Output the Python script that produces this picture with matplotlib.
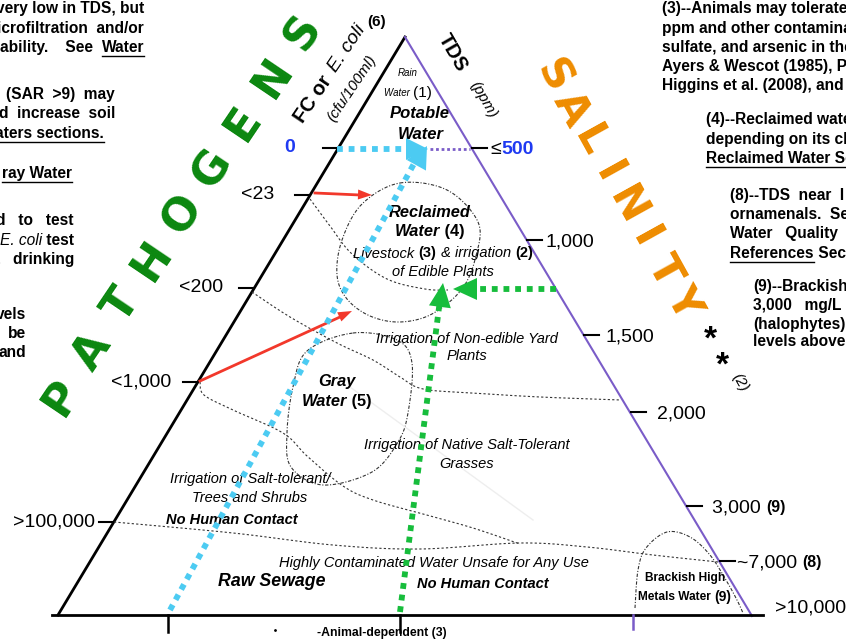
import numpy as np
import matplotlib.pyplot as plt

# --- geometry of the diagram (pixel space, y down) ---
W, H = 846, 640
apex = np.array([405.0, 37.0])
left_base = np.array([58.0, 615.0])
right_base = np.array([752.0, 616.0])

# pathogen axis (left side): labels and fraction along side from apex
pathogen_labels = ['0', '<23', '<200', '<1,000', '>100,000']
pathogen_pos = [0.192, 0.273, 0.434, 0.597, 0.839]
pathogen_gap = [28, 21, 16, 12, 4]

# TDS axis (right side)
tds_labels = ['500', '1,000', '1,500', '2,000', '3,000', '~7,000']
tds_notes = ['', '', '', '', '(9)', '(8)']
tds_pos = [0.191, 0.350, 0.514, 0.648, 0.810, 0.905]
tds_gap = [19, 19, 22, 27, 26, 18]

# bottom ticks (fraction along the base)
base_ticks = [0.1585, 0.493, 0.8285]
base_tick_colors = ['black', 'black', '#7a5cc8']

# region boundaries (key points of the dashed curves)
curve_23 = [(310, 199), (330, 226), (352, 254), (387, 279), (425, 289), (448, 290)]
curve_200 = [(252, 292), (290, 317), (337, 343), (373, 360), (400, 377), (423, 389),
             (473, 393), (540, 397), (621, 400)]
curve_1000 = [(200, 382), (204, 395), (233, 410), (283, 433), (307, 456), (343, 486),
              (373, 500), (423, 514), (473, 528), (520, 544)]
curve_100k = [(114, 522), (233, 533), (333, 545), (420, 549), (520, 543), (587, 547),
              (653, 555), (718, 562)]
loop_reclaimed = [(400, 183), (447, 190), (478, 222), (476, 256), (462, 289), (432, 314),
                  (400, 322), (370, 316), (347, 299), (337, 275), (342, 240), (362, 204)]
loop_gray = [(353, 333), (397, 340), (412, 363), (408, 413), (398, 442), (372, 472),
             (323, 485), (291, 467), (287, 433), (293, 387), (307, 351)]
loop_brackish = [(635, 608), (638, 570), (646, 548), (667, 532), (690, 537), (710, 555),
                 (726, 580), (737, 600), (743, 613)]

CYAN = '#4ccbf2'
GREEN = '#17bd3c'
RED = '#f2382b'
PURPLE = '#7a5cc8'
BLUE = '#1f3af2'
PGREEN = '#0b870f'
ORANGE = '#ee8c00'

plt.rcParams['font.family'] = ['Liberation Sans', 'DejaVu Sans']

fig = plt.figure(figsize=(8.46, 6.4), dpi=100)
ax = fig.add_axes([0, 0, 1, 1])
ax.set_xlim(0, W)
ax.set_ylim(H, 0)
ax.axis('off')
renderer = fig.canvas.get_renderer()


def along(p, q, t):
    return p + t * (q - p)


def catmull(pts, closed=False, n=16):
    P = np.asarray(pts, float)
    if closed:
        P = np.vstack([P[-1], P, P[0], P[1]])
    else:
        P = np.vstack([P[0], P, P[-1]])
    t = np.linspace(0, 1, n, endpoint=False)[:, None]
    out = []
    for i in range(1, len(P) - 2):
        p0, p1, p2, p3 = P[i - 1], P[i], P[i + 1], P[i + 2]
        out.append(0.5 * (2 * p1 + (-p0 + p2) * t + (2 * p0 - 5 * p1 + 4 * p2 - p3) * t ** 2
                          + (-p0 + 3 * p1 - 3 * p2 + p3) * t ** 3))
    out.append(P[-2][None])
    return np.vstack(out)


def width_of(s, **kw):
    a = ax.text(0, 0, '|' + s + '|', **kw)
    b = ax.text(0, 0, '||', **kw)
    w = a.get_window_extent(renderer).width - b.get_window_extent(renderer).width
    a.remove()
    b.remove()
    return w


def rich(x, y, parts, ha='center', size=10, va='center_baseline'):
    items = []
    for p in parts:
        s, kw = p[0], dict(p[1])
        ul = kw.pop('ul', False)
        kw.setdefault('fontsize', size)
        items.append((s, kw, ul, width_of(s, **kw)))
    total = sum(i[3] for i in items)
    x0 = {'center': x - total / 2, 'right': x - total, 'left': x}[ha]
    for s, kw, ul, w in items:
        t = ax.text(x0, y, s, ha='left', va=va, **kw)
        if ul:
            bb = t.get_window_extent(renderer)
            yb = H - bb.y0 + 1
            ax.plot([x0, x0 + w], [yb, yb], color=kw.get('color', 'black'), lw=1)
        x0 += w


def head(tip, frm, length, width, color):
    tip = np.asarray(tip, float)
    d = tip - np.asarray(frm, float)
    d /= np.hypot(*d)
    n = np.array([-d[1], d[0]])
    base = tip - d * length
    ax.fill(*np.array([tip, base + n * width / 2, base - n * width / 2]).T, color=color, lw=0, zorder=5)


# --- triangle sides ---
ax.plot(*np.array([apex, left_base]).T, color='black', lw=2)
ax.plot(*np.array([apex, right_base]).T, color=PURPLE, lw=1.5)
ax.plot([52, 763], [615, 615], color='black', lw=2)

# pathogen ticks
for lab, t, g in zip(pathogen_labels, pathogen_pos, pathogen_gap):
    p = along(apex, left_base, t)
    ax.plot([p[0] - 15, p[0]], [p[1], p[1]], color='black', lw=1.5)
    if lab == '0':
        ax.text(p[0] - 15 - g, p[1], lab, ha='right', va='center', fontsize=14,
                fontweight='bold', color=BLUE)
    else:
        ax.text(p[0] - 15 - g, p[1], lab, ha='right', va='center', fontsize=14)

# TDS ticks
for lab, note, t, g in zip(tds_labels, tds_notes, tds_pos, tds_gap):
    p = along(apex, right_base, t)
    ax.plot([p[0] + 1, p[0] + 16], [p[1], p[1]], color='black', lw=1.5)
    if lab == '500':
        rich(p[0] + g, p[1], [('≤', {}), ('500', {'fontweight': 'bold', 'color': BLUE})],
             ha='left', size=14)
    elif note:
        rich(p[0] + g, p[1], [(lab + ' ', {}), (note, {'fontweight': 'bold', 'fontsize': 11.5})],
             ha='left', size=14)
    else:
        rich(p[0] + g, p[1], [(lab, {})], ha='left', size=14)
ax.text(775, 608, '>10,000', ha='left', va='center', fontsize=14)

for t, c in zip(base_ticks, base_tick_colors):
    p = along(left_base, right_base, t)
    ax.plot([p[0], p[0]], [615, 615 + (14 if c != 'black' else 17)], color=c, lw=1.8)
ax.plot([275], [630], marker='.', color='black', ms=2)
ax.text(382, 633, '-Animal-dependent (3)', ha='center', va='center', fontsize=8.8, fontweight='bold')

# --- dashed region boundaries ---
for c in [curve_23, curve_200, curve_1000, curve_100k]:
    xy = catmull(c)
    ax.plot(xy[:, 0], xy[:, 1], color='#333333', lw=0.8, ls=(0, (2, 2)))
for c, closed in [(loop_reclaimed, True), (loop_gray, True), (loop_brackish, False)]:
    xy = catmull(c, closed=closed)
    ax.plot(xy[:, 0], xy[:, 1], color='#333333', lw=0.8, ls=(0, (3, 1.5, 1, 1.5)))
ax.plot([350, 533], [387, 520], color='#eeeeee', lw=1)

# --- arrows ---
dot = dict(lw=4.2, ls=(0, (1, 1)), dash_capstyle='butt', zorder=4)
ax.plot([170, 416], [610, 160], color=CYAN, **dot)
head((427, 146), (170, 610), 22, 22, CYAN)
ax.plot([337, 405], [149, 149], color=CYAN, **dot)
head((428, 149), (337, 149), 22, 22, CYAN)
ax.plot([430, 470], [149, 149], color=PURPLE, lw=2, ls=(0, (1, 1)))
ax.plot([400, 440], [612, 300], color=GREEN, **dot)
head((443, 283), (400, 612), 24, 22, GREEN)
ax.plot([556, 470], [289, 289], color=GREEN, **dot)
head((453, 289), (556, 289), 24, 22, GREEN)
ax.plot([315, 360], [193, 195], color=RED, lw=2)
head((372, 195), (315, 193), 14, 10, RED)
ax.plot([200, 340], [381, 317], color=RED, lw=2)
head((352, 311), (200, 381), 14, 10, RED)

# --- big axis words ---
for i, ch in enumerate('PATHOGENS'):
    p = along(np.array([62.0, 397.0]), np.array([303.0, 32.0]), i / 8)
    ax.text(p[0], p[1], ch, ha='center', va='center', rotation=56, fontsize=32,
            fontweight='heavy', color=PGREEN, family='DejaVu Sans')
for i, ch in enumerate('SALINITY'):
    p = along(np.array([553.0, 76.0]), np.array([683.0, 303.0]), i / 7)
    ax.text(p[0], p[1], ch, ha='center', va='center', rotation=-61, fontsize=31,
            fontweight='heavy', color=ORANGE, family='DejaVu Sans')
ax.text(710, 340, '*', ha='center', va='center', fontsize=24, fontweight='bold')
ax.text(722, 366, '*', ha='center', va='center', fontsize=24, fontweight='bold')
ax.text(740, 383, '(2)', ha='center', va='center', fontsize=11, rotation=-60, style='italic')

# axis titles
ax.text(313, 99, 'FC or', ha='center', va='center', rotation=56, fontsize=14.5, fontweight='bold')
ax.text(347, 48, 'E. coli', ha='center', va='center', rotation=56, fontsize=14, style='italic')
ax.text(377, 22, '(6)', ha='center', va='center', fontsize=11, fontweight='bold')
ax.text(352, 88, '(cfu/100ml)', ha='center', va='center', rotation=56, fontsize=11, style='italic')
ax.text(453, 53, 'TDS', ha='center', va='center', rotation=-60, fontsize=14.5, fontweight='bold')
ax.text(483, 100, '(ppm)', ha='center', va='center', rotation=-60, fontsize=11, style='italic')

# --- region labels ---
bi = {'fontweight': 'bold', 'style': 'italic'}
it = {'style': 'italic'}
bd = {'fontweight': 'bold'}
ax.text(408, 73, 'Rain', ha='center', va='center', fontsize=7, style='italic')
rich(408, 92, [('Water ', dict(it, fontsize=7)), ('(1)', {'fontsize': 11})])
rich(420, 112, [('Potable', bi)], size=12)
rich(421, 133, [('Water', bi)], size=12)
rich(430, 211, [('Reclaimed', bi)], size=11.8)
rich(430, 230, [('Water', bi), (' (4)', bd)], size=11.8)
rich(443, 252, [('Livestock ', it), ('(3)', bd), (' & irrigation ', it), ('(2)', bd)], size=10.5)
rich(443, 271, [('of Edible Plants', it)], size=10.5)
rich(467, 337, [('Irrigation of Non-edible Yard', it)], size=10.5)
rich(467, 355, [('Plants', it)], size=10.5)
rich(337, 380, [('Gray', bi)], size=11.8)
rich(337, 400, [('Water', bi), (' (5)', bd)], size=11.8)
rich(467, 443, [('Irrigation of Native Salt-Tolerant', it)], size=10.5)
rich(467, 462, [('Grasses', it)], size=10.5)
rich(250, 478, [('Irrigation of Salt-tolerant/', it)], size=10.5)
rich(250, 497, [('Trees and Shrubs', it)], size=10.5)
rich(232, 518, [('No Human Contact', bi)], size=10.5)
rich(434, 562, [('Highly Contaminated Water Unsafe for Any Use', it)], size=10.5)
rich(272, 580, [('Raw Sewage', bi)], size=12.8)
rich(483, 583, [('No Human Contact', bi)], size=10.5)
rich(685, 577, [('Brackish High', bd)], size=8.6)
rich(685, 595, [('Metals Water ', bd), ('(9)', dict(bd, fontsize=10))], size=8.6)

# --- side notes (cut at the figure edge) ---
left_notes = [
    (144, 7, [('very low in TDS, but', {})]),
    (144, 27, [('icrofiltration  and/or', {})]),
    (144, 46, [('ability.    See  ', {}), ('Water', {'ul': True})]),
    (115, 93, [('(SAR  >9)  may', {})]),
    (115, 112, [('d  increase  soil', {})]),
    (104, 132, [('aters sections.', {'ul': True})]),
    (72, 172, [('ray Water', {'ul': True})]),
    (74, 219, [('d   to   test', {})]),
    (74, 239, [('E. coli', {'fontweight': 'normal', 'style': 'italic'}), (' test', {})]),
    (74, 258, [('t   drinking', {})]),
    (26, 313, [('vels', {})]),
    (26, 332, [('be', {})]),
    (26, 351, [('and', {})]),
]
for x, y, parts in left_notes:
    parts = [(s, dict({'fontweight': 'bold'}, **kw)) for s, kw in parts]
    rich(x, y, parts, ha='right', size=11.2)

right_notes = [
    (662, 7, [('(3)--Animals may tolerate', {})]),
    (662, 27, [('ppm and other contaminants', {})]),
    (662, 46, [('sulfate, and arsenic in their', {})]),
    (662, 65, [('Ayers & Wescot (1985), P', {})]),
    (662, 84, [('Higgins et al. (2008), and', {})]),
    (706, 118, [('(4)--Reclaimed water', {})]),
    (706, 138, [('depending on its cl', {})]),
    (706, 157, [('Reclaimed Water Se', {'ul': True})]),
    (730, 194, [('(8)--TDS  near  I', {})]),
    (730, 213, [('ornamenals.  Se', {})]),
    (730, 232, [('Water   Quality', {})]),
    (730, 252, [('References', {'ul': True}), (' Sec', {})]),
    (753, 285, [('(9)--Brackish', {})]),
    (753, 304, [('3,000   mg/L', {})]),
    (753, 323, [('(halophytes)', {})]),
    (753, 340, [('levels above', {})]),
]
for x, y, parts in right_notes:
    parts = [(s, dict({'fontweight': 'bold'}, **kw)) for s, kw in parts]
    rich(x, y, parts, ha='left', size=11.2)

fig.savefig('out.png', dpi=100)
